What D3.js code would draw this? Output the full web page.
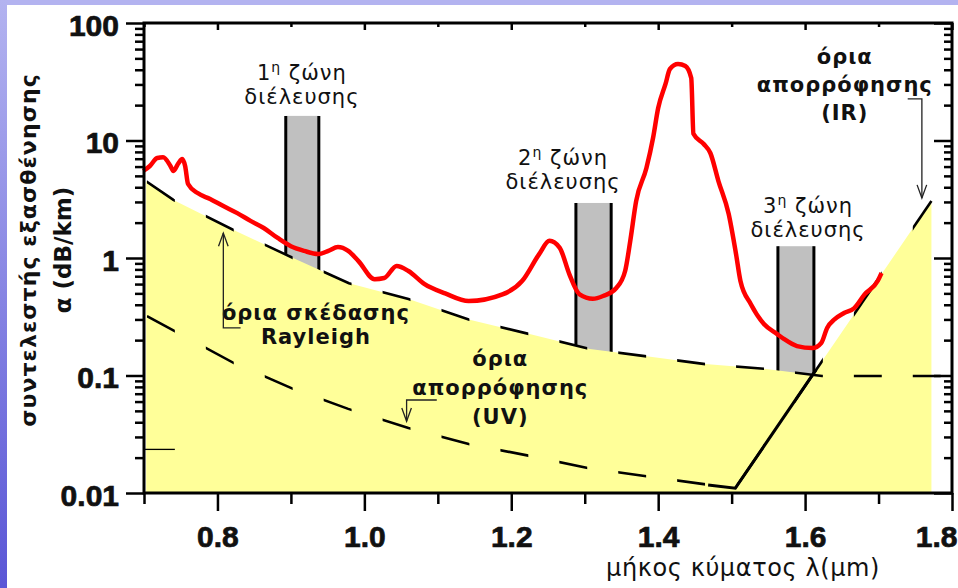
<!DOCTYPE html>
<html>
<head>
<meta charset="utf-8">
<script src="https://cdn.jsdelivr.net/npm/d3@7"></script>
<style>
  body { margin: 0; background: #fff; }
  svg { display: block; }
  .tick text { font-family: "Liberation Sans", Arial, sans-serif; font-weight: bold; font-size: 30px;
               fill: #111; stroke: #111; stroke-width: 0.7px; }
  .lbl { font-family: "DejaVu Sans", Verdana, sans-serif; fill: #111; }
</style>
</head>
<body>
<svg width="958" height="588"></svg>
<script>
// total attenuation of the fibre (red curve)
const totalLambda = [0.699, 0.708, 0.718, 0.726, 0.736, 0.740, 0.747, 0.752, 0.756, 0.760,
  0.773, 0.790, 0.808, 0.827, 0.845, 0.863, 0.882, 0.900, 0.918, 0.937, 0.951, 0.964, 0.978,
  0.992, 1.014, 1.027, 1.044, 1.060, 1.082, 1.110, 1.142, 1.188, 1.215, 1.238, 1.252, 1.266,
  1.279, 1.293, 1.311, 1.325, 1.343, 1.355, 1.362, 1.370, 1.384, 1.393, 1.400, 1.410, 1.416,
  1.427, 1.437, 1.445, 1.448, 1.462, 1.471, 1.482, 1.496, 1.506, 1.512, 1.526, 1.544, 1.562,
  1.571, 1.589, 1.610, 1.622, 1.630, 1.640, 1.653, 1.667, 1.681, 1.699, 1.704];
const totalLoss = [5.5, 6.07, 7.1, 7.2, 6.07, 5.5, 6.43, 6.96, 6.07, 4.26,
  3.57, 3.18, 2.77, 2.41, 2.07, 1.80, 1.48, 1.26, 1.15, 1.08, 1.15, 1.24, 1.15,
  0.94, 0.66, 0.675, 0.855, 0.775, 0.6, 0.5, 0.43, 0.49, 0.64, 1.08, 1.40, 1.22,
  0.73, 0.49, 0.45, 0.475, 0.556, 0.775, 1.40, 3.05, 5.83, 10.5, 18.9, 30.3, 40.6,
  44.8, 43.1, 34.0, 11.4, 9.34, 7.83, 4.52, 2.37, 1.08, 0.637, 0.406, 0.274, 0.225,
  0.205, 0.178, 0.171, 0.189, 0.254, 0.30, 0.34, 0.375, 0.49, 0.64, 0.745];

// Rayleigh scattering limit
const rayLambda = [0.703, 0.740, 0.822, 0.903, 0.979, 1.060, 1.142, 1.225, 1.307, 1.379, 1.464, 1.544, 1.623, 1.800];
const rayLoss   = [4.5, 3.12, 1.73, 1.0, 0.61, 0.447, 0.30, 0.225, 0.168, 0.147, 0.125, 0.114, 0.099, 0.099];

// UV absorption limit
const uvLambda = [0.704, 0.822, 0.903, 0.978, 1.060, 1.142, 1.225, 1.304, 1.379, 1.462, 1.505];
const uvLoss   = [0.32, 0.128, 0.077, 0.052, 0.0357, 0.0261, 0.0207, 0.0163, 0.014, 0.0119, 0.011];

// IR absorption limit
const irLambda = [1.505, 1.772];
const irLoss   = [0.011, 3.05];

// solid intrinsic-loss segment
const solidLambda = [1.468, 1.505, 1.615];
const solidLoss   = [0.0117, 0.011, 0.112];

// stray short mark at the left edge
const strayLambda = [0.700, 0.742];
const strayLoss   = [0.0235, 0.0235];

// transmission windows
const bandStart = [0.893, 1.288, 1.563];
const bandEnd   = [0.938, 1.336, 1.612];
const bandTop   = [16.2, 2.94, 1.26];
const bandNum   = ["1", "2", "3"];
const bandLabelX = [0.915, 1.2705, 1.604];

const xMajor = [0.8, 1.0, 1.2, 1.4, 1.6, 1.8];
const xMinor = [0.7, 0.9, 1.1, 1.3, 1.5, 1.7];
const yMajor = [0.01, 0.1, 1, 10, 100];
const yLabels = ["0.01", "0.1", "1", "10", "100"];

const svg = d3.select("svg");
const W = 958, H = 588;

const x = d3.scaleLinear().domain([0.7, 1.8]).range([144, 952]);
const y = d3.scaleLog().domain([0.01, 100]).range([493, 23]);

const zip = (a, b) => a.map((v, i) => [v, b[i]]);
const line = d3.line().x(d => x(d[0])).y(d => y(d[1]));
const smooth = d3.line().x(d => x(d[0])).y(d => y(d[1])).curve(d3.curveMonotoneX);

// frame background and blue border
const defs = svg.append("defs");
const grad = defs.append("linearGradient").attr("id", "edge")
    .attr("x1", 0).attr("y1", 0).attr("x2", 0).attr("y2", 1);
grad.append("stop").attr("offset", 0).attr("stop-color", "#b3b3f0");
grad.append("stop").attr("offset", 1).attr("stop-color", "#5a56d6");

svg.append("rect").attr("width", W).attr("height", H).attr("fill", "#fff");
svg.append("rect").attr("width", W).attr("height", 5).attr("fill", "#b3b3f0");
svg.append("rect").attr("width", 7).attr("height", H).attr("fill", "url(#edge)");

// dash stripes, spaced along the wavelength axis
const dashClip = defs.append("clipPath").attr("id", "dashes");
dashClip.selectAll("rect")
    .data(d3.range(0.704, 1.8, 0.0802))
    .join("rect")
    .attr("x", d => x(d))
    .attr("width", d => x(d + 0.038) - x(d))
    .attr("y", 0)
    .attr("height", H);

// transmission windows (grey)
const bands = svg.append("g");
bandStart.forEach((s, i) => {
    bands.append("rect")
        .attr("x", x(s)).attr("width", x(bandEnd[i]) - x(s))
        .attr("y", y(bandTop[i])).attr("height", y(0.01) - y(bandTop[i]))
        .attr("fill", "#c0c0c0");
    [s, bandEnd[i]].forEach(e => bands.append("line")
        .attr("x1", x(e)).attr("x2", x(e))
        .attr("y1", y(bandTop[i])).attr("y2", y(0.01))
        .attr("stroke", "#000").attr("stroke-width", 3));
});

// yellow region under max(Rayleigh, IR)
const ray = zip(rayLambda, rayLoss);
const ir = zip(irLambda, irLoss);
function crossing(a, b) {
    // intersection of two polylines in screen space
    for (let i = 0; i < a.length - 1; i++) {
        for (let j = 0; j < b.length - 1; j++) {
            const p = [x(a[i][0]), y(a[i][1])], p2 = [x(a[i+1][0]), y(a[i+1][1])];
            const q = [x(b[j][0]), y(b[j][1])], q2 = [x(b[j+1][0]), y(b[j+1][1])];
            const r = [p2[0]-p[0], p2[1]-p[1]], s = [q2[0]-q[0], q2[1]-q[1]];
            const den = r[0]*s[1] - r[1]*s[0];
            if (!den) continue;
            const t = ((q[0]-p[0])*s[1] - (q[1]-p[1])*s[0]) / den;
            const u = ((q[0]-p[0])*r[1] - (q[1]-p[1])*r[0]) / den;
            if (t >= 0 && t <= 1 && u >= 0 && u <= 1)
                return [x.invert(p[0] + t*r[0]), y.invert(p[1] + t*r[1])];
        }
    }
}
const cross = crossing(ray, ir);
const envelope = ray.filter(d => d[0] < cross[0]).concat([cross], ir.filter(d => d[0] > cross[0]));
svg.append("path")
    .datum(envelope)
    .attr("fill", "#ffff99")
    .attr("d", d3.area().x(d => x(d[0])).y0(y(0.01)).y1(d => y(d[1])));

// dashed limits
const dashed = svg.append("g").attr("clip-path", "url(#dashes)")
    .attr("fill", "none").attr("stroke", "#000").attr("stroke-width", 2.6);
dashed.append("path").attr("d", line(ray));
dashed.append("path").attr("d", line(zip(uvLambda, uvLoss)));
dashed.append("path").attr("d", line(ir));

svg.append("path").attr("d", line(zip(solidLambda, solidLoss)))
    .attr("fill", "none").attr("stroke", "#000").attr("stroke-width", 3);
svg.append("path").attr("d", line(zip(strayLambda, strayLoss)))
    .attr("fill", "none").attr("stroke", "#000").attr("stroke-width", 1.3);

// total attenuation
svg.append("path")
    .attr("d", smooth(zip(totalLambda, totalLoss)))
    .attr("fill", "none").attr("stroke", "#ff0000").attr("stroke-width", 4.5)
    .attr("stroke-linejoin", "round");

// axes
function styleAxis(g) {
    g.select(".domain").remove();
    g.selectAll(".tick line").attr("stroke", "#000").attr("stroke-width", 2.5);
}
const yMinor = [];
[0.01, 0.1, 1, 10].forEach(d => d3.range(2, 10).forEach(k => yMinor.push(d * k)));

svg.append("g").attr("transform", `translate(${x(0.7)},0)`)
    .call(d3.axisLeft(y).tickValues(yMajor).tickSize(18).tickPadding(7)
        .tickFormat((d, i) => yLabels[i]))
    .call(styleAxis)
    .call(g => g.selectAll(".tick text").attr("dy", "0.4em"));
svg.append("g").attr("transform", `translate(${x(0.7)},0)`)
    .call(d3.axisLeft(y).tickValues(yMinor).tickSize(9).tickFormat(""))
    .call(styleAxis);
svg.append("g").attr("transform", `translate(${x(1.8)},0)`)
    .call(d3.axisRight(y).tickValues(yMajor).tickSize(-18).tickFormat(""))
    .call(styleAxis);
svg.append("g").attr("transform", `translate(${x(1.8)},0)`)
    .call(d3.axisRight(y).tickValues(yMinor).tickSize(-8).tickFormat(""))
    .call(styleAxis);
svg.append("g").attr("transform", `translate(0,${y(0.01)})`)
    .call(d3.axisBottom(x).tickValues(xMajor).tickSize(18).tickPadding(15)
        .tickFormat(d3.format(".1f")))
    .call(styleAxis)
    // last label pulled in so it stays on the page
    .call(g => g.selectAll(".tick").filter(d => d === 1.8).select("text")
        .attr("text-anchor", "end").attr("x", W - 1 - x(1.8)));
svg.append("g").attr("transform", `translate(0,${y(0.01)})`)
    .call(d3.axisBottom(x).tickValues(xMinor).tickSize(11).tickFormat(""))
    .call(styleAxis);
svg.append("g").attr("transform", `translate(0,${y(100)})`)
    .call(d3.axisTop(x).tickValues(xMajor).tickSize(-7).tickFormat(""))
    .call(styleAxis);
svg.append("g").attr("transform", `translate(0,${y(100)})`)
    .call(d3.axisTop(x).tickValues(xMinor).tickSize(-4).tickFormat(""))
    .call(styleAxis);

svg.append("rect")
    .attr("x", x(0.7)).attr("y", y(100))
    .attr("width", x(1.8) - x(0.7)).attr("height", y(0.01) - y(100))
    .attr("fill", "none").attr("stroke", "#000").attr("stroke-width", 3);

// axis titles
svg.append("text").attr("class", "lbl")
    .attr("x", 880).attr("y", 576).attr("text-anchor", "end")
    .attr("font-size", 24).attr("letter-spacing", 0.6)
    .text("μήκος κύματος λ(μm)");
const yt = svg.append("text").attr("class", "lbl")
    .attr("transform", "translate(0,250) rotate(-90)")
    .attr("text-anchor", "middle").attr("font-weight", "bold").attr("font-size", 22);
yt.append("tspan").attr("x", 0).attr("y", 36).attr("letter-spacing", 1.1)
    .text("συντελεστής εξασθένησης");
yt.append("tspan").attr("x", 0).attr("y", 71).attr("font-size", 23).text("α (dB/km)");

// window labels
const bandLabelOffset = [12, 14, 9];
bandNum.forEach((n, i) => {
    const cx = x(bandLabelX[i]);
    const b2 = y(bandTop[i]) - bandLabelOffset[i];
    const t = svg.append("text").attr("class", "lbl").attr("font-size", 21)
        .attr("letter-spacing", 1).attr("text-anchor", "middle");
    t.append("tspan").attr("x", cx).attr("y", b2 - 24).text(n);
    t.append("tspan").attr("font-size", 14).attr("dy", -8).text("η");
    t.append("tspan").attr("dy", 8).text(" ζώνη");
    svg.append("text").attr("class", "lbl").attr("font-size", 21)
        .attr("letter-spacing", 1)
        .attr("text-anchor", "middle").attr("x", cx).attr("y", b2)
        .text("διέλευσης");
});

// limit labels
function block(lines, lx, by, step) {
    const t = svg.append("text").attr("class", "lbl").attr("font-size", 21)
        .attr("letter-spacing", 1)
        .attr("font-weight", "bold").attr("text-anchor", "middle");
    lines.forEach((s, i) => t.append("tspan").attr("x", x(lx)).attr("y", by + i * step).text(s));
}
block(["όρια σκέδασης", "Rayleigh"], 0.934, 320, 24);
block(["όρια", "απορρόφησης", "(UV)"], 1.185, 366, 29);
block(["όρια", "απορρόφησης", "(IR)"], 1.654, 64, 28);

// annotation arrows
function arrow(pts) {
    const p = pts.map(d => [x(d[0]), y(d[1])]);
    const g = svg.append("g").attr("fill", "none").attr("stroke", "#222").attr("stroke-width", 1.3);
    g.append("path").attr("d", d3.line()(p));
    const tip = p[p.length - 1], prev = p[p.length - 2];
    const a = Math.atan2(tip[1] - prev[1], tip[0] - prev[0]);
    const L = 14, s = 0.35;
    g.append("path").attr("d", d3.line()([
        [tip[0] - L * Math.cos(a - s), tip[1] - L * Math.sin(a - s)], tip,
        [tip[0] - L * Math.cos(a + s), tip[1] - L * Math.sin(a + s)]]));
}
arrow([[0.8315, 0.254], [0.808, 0.254], [0.808, 1.63]]);
arrow([[1.0986, 0.0619], [1.0575, 0.0619], [1.0575, 0.0408]]);
arrow([[1.7397, 22.6], [1.759, 22.6], [1.759, 3.24]]);
</script>
</body>
</html>
